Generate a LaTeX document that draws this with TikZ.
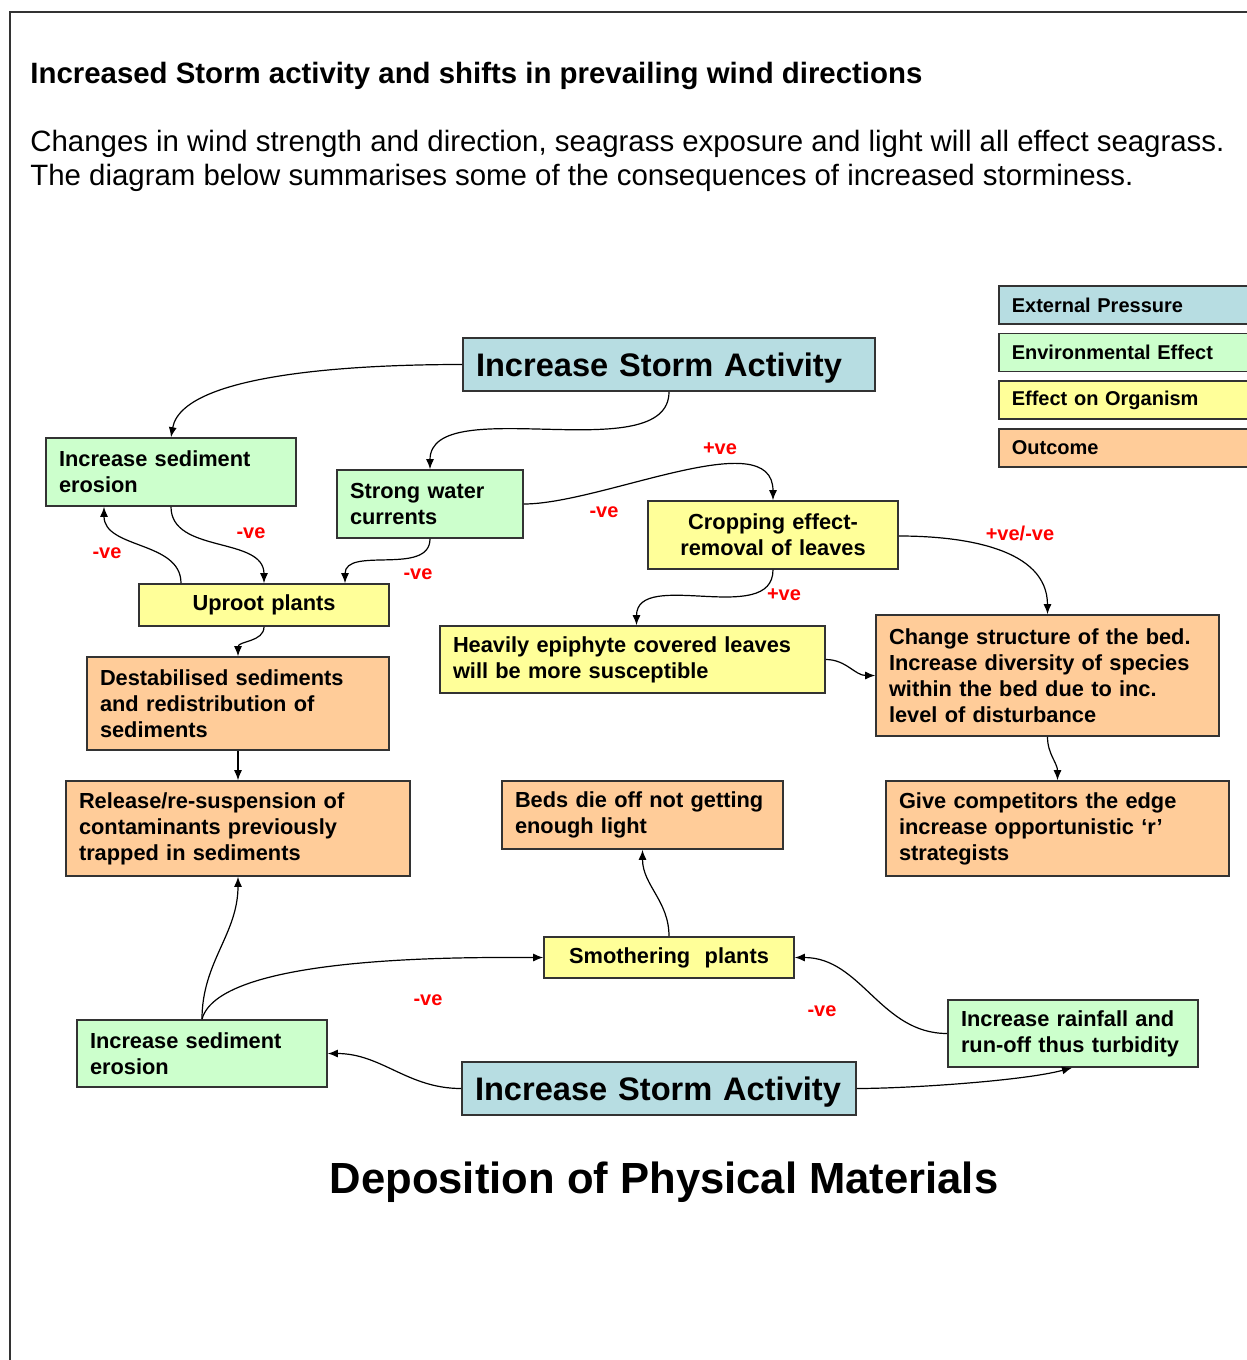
\documentclass[tikz,border=0pt]{standalone}
\usepackage{fontspec}
\setmainfont{Liberation Sans}
\usepackage{tikz}
\usetikzlibrary{arrows.meta,positioning,calc}

\definecolor{pressblue}{RGB}{183,221,226}
\definecolor{envgreen}{RGB}{204,255,204}
\definecolor{orgyellow}{RGB}{255,255,153}
\definecolor{outorange}{RGB}{255,204,153}
\definecolor{signred}{RGB}{255,0,0}

\begin{document}
\begin{tikzpicture}[
  x=0.5pt, y=-0.5pt,
  node distance=4pt,
  box/.style={draw=black!80, line width=0.8pt, inner xsep=6.5pt, inner ysep=1pt, align=left,
    font=\fontsize{10.9}{13}\selectfont\bfseries},
  extbox/.style={box, fill=pressblue},
  envbox/.style={box, fill=envgreen},
  orgbox/.style={box, fill=orgyellow},
  outbox/.style={box, fill=outorange},
  storm/.style={extbox, minimum height=26.5pt, inner ysep=0pt, text depth=0pt,
    font=\fontsize{16.3}{19}\selectfont\bfseries},
  keybox/.style={draw=black!80, line width=0.8pt, anchor=west, minimum width=140pt, text width=127pt,
    minimum height=19pt, inner xsep=6.5pt, inner ysep=0pt, align=left, font=\fontsize{10}{12}\selectfont\bfseries},
  sign/.style={text=signred, inner sep=0pt, font=\fontsize{10}{12}\selectfont\bfseries},
  arr/.style={-{Latex[length=5pt,width=4pt]}, line width=0.6pt}
]
\useasboundingbox (0,0) rectangle (1247,1360);
\draw[line width=1pt, black!80] (10,1420) -- (10,12) -- (1300,12);

\node[anchor=west, inner sep=0pt, font=\fontsize{14.7}{17}\selectfont\bfseries] (title) at (30,76)
  {Increased Storm activity and shifts in prevailing wind directions};
\node[anchor=west, align=left, inner sep=0pt, font=\fontsize{14.7}{17}\selectfont] (intro) at (30,161)
  {Changes in wind strength and direction, seagrass exposure and light will all effect seagrass.\\
   The diagram below summarises some of the consequences of increased storminess.};

\node[keybox, fill=pressblue] (keyExt) at (998,305) {External Pressure};
\node[keybox, fill=envgreen, below=of keyExt] (keyEnv) {Environmental Effect};
\node[keybox, fill=orgyellow, below=of keyEnv] (keyOrg) {Effect on Organism};
\node[keybox, fill=outorange, below=of keyOrg] (keyOut) {Outcome};

\node[storm, text width=193pt] (stormTop) at (669,364.5) {Increase Storm Activity};
\node[envbox, text width=112pt, minimum height=34pt] (sedTop) at (171,472) {Increase sediment\\erosion};
\node[envbox, text width=80pt, minimum height=34pt] (water) at (430,504) {Strong water\\currents};
\node[orgbox, align=center, text width=112pt, minimum height=34pt] (crop) at (773,535) {Cropping effect-\\removal of leaves};
\node[orgbox, align=center, text width=112pt, minimum height=21pt] (uproot) at (264,605) {Uproot plants};
\node[orgbox, text width=179.5pt, minimum height=33.5pt] (heavy) at (632.5,659.5)
  {Heavily epiphyte covered leaves\\will be more susceptible};
\node[outbox, text width=158.5pt, minimum height=60.5pt] (change) at (1047.5,675.5)
  {Change structure of the bed.\\Increase diversity of species\\within the bed due to inc.\\level of disturbance};
\node[outbox, text width=138pt, minimum height=46.5pt] (destab) at (238,703.5)
  {Destabilised sediments\\and redistribution of\\sediments};
\node[outbox, text width=159pt, minimum height=47.5pt] (release) at (238,828.5)
  {Release/re-suspension of\\contaminants previously\\trapped in sediments};
\node[outbox, text width=127.5pt, minimum height=34pt] (beds) at (642.5,815) {Beds die off not getting\\enough light};
\node[outbox, text width=158.5pt, minimum height=47.5pt] (give) at (1057.5,828.5)
  {Give competitors the edge\\increase opportunistic ‘r’\\strategists};
\node[orgbox, align=center, text width=112pt, minimum height=20.5pt] (smother) at (669,957.5) {Smothering~~plants};
\node[envbox, text width=112pt, minimum height=33.5pt] (sedBot) at (202,1053.5) {Increase sediment\\erosion};
\node[envbox, text width=112pt, minimum height=33.5pt] (rain) at (1073,1033.5) {Increase rainfall and\\run-off thus turbidity};
\node[storm, text width=184pt] (stormBot) at (659,1088.5) {Increase Storm Activity};

\node[font=\fontsize{21.8}{26}\selectfont\bfseries] (deposit) at (664,1182) {Deposition of Physical Materials};

\node[sign] (sWaterCrop) at (604,512) {-ve};
\node[sign] (sCropTop) at (720,449) {+ve};
\node[sign] (sSedUp) at (251,533) {-ve};
\node[sign] (sUpSed) at (107,553) {-ve};
\node[sign] (sWaterUp) at (418,574) {-ve};
\node[sign] (sCropHeavy) at (784,595) {+ve};
\node[sign] (sCropChange) at (1020,533) {+ve/-ve};
\node[sign] (sSedSmother) at (428,1000) {-ve};
\node[sign] (sRainSmother) at (822,1011) {-ve};

\draw[arr] (stormTop.west) to[out=180, in=80, looseness=0.6] (sedTop.north);
\draw[arr] (stormTop.south) to[out=-90, in=90, looseness=0.8] (water.north);
\draw[arr] (water.east) to[out=0, in=90, looseness=0.8] (crop.north);
\draw[arr] (sedTop.south) to[out=-90, in=90] (uproot.north);
\draw[arr] ($(uproot.north)+(-83,0)$) to[out=90, in=-90] ($(sedTop.south)+(-67,0)$);
\draw[arr] (water.south) to[out=-90, in=90] ($(uproot.north)+(81,0)$);
\draw[arr] (uproot.south) to[out=-90, in=90] (destab.north);
\draw[arr] (destab) -- (release);
\draw[arr] (crop.south) to[out=-90, in=90] ($(heavy.north)+(4,0)$);
\draw[arr] ($(crop.east)+(0,1)$) to[out=0, in=90] (change.north);
\draw[arr] (heavy.east) to[out=0, in=180] (change.west);
\draw[arr] (change.south) to[out=-90, in=90] (give.north);
\draw[arr] (smother.north) to[out=90, in=-90] (beds.south);
\draw[arr] (sedBot.north) to[out=90, in=-90] (release.south);
\draw[arr] (sedBot.north) to[out=75, in=180, looseness=0.5] (smother.west);
\draw[arr] (stormBot.west) to[out=180, in=0] (sedBot.east);
\draw[arr] (stormBot.east) to[out=0, in=-165, looseness=0.6] ($(rain.south)+(-1,0)$);
\draw[arr] (rain.west) to[out=180, in=0] (smother.east);
\end{tikzpicture}
\end{document}
